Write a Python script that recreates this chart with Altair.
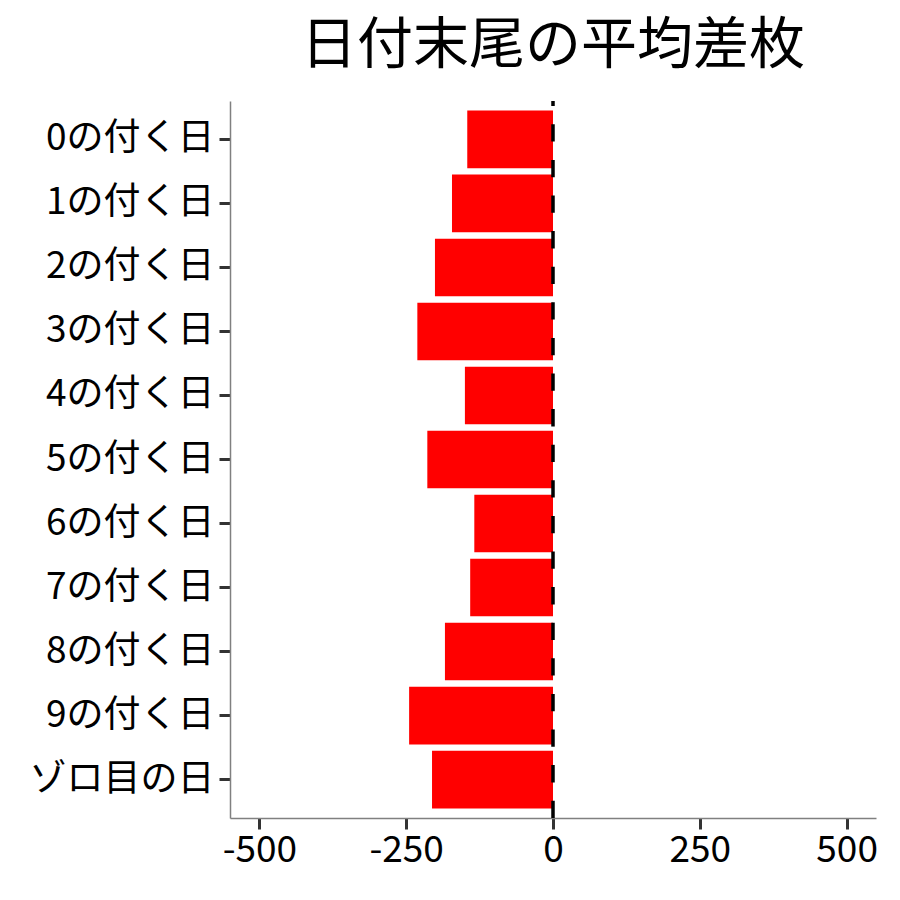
import altair as alt
import pandas as pd

categories = ["0の付く日", "1の付く日", "2の付く日", "3の付く日", "4の付く日",
              "5の付く日", "6の付く日", "7の付く日", "8の付く日", "9の付く日", "ゾロ目の日"]
values = [-146, -172, -201, -231, -150, -214, -134, -141, -184, -245, -206]
x_ticks = [-500, -250, 0, 250, 500]
ref_value = [0]

df = pd.DataFrame({"cat": categories, "val": values})
ref_df = pd.DataFrame({"ref": ref_value})

FONT = "Noto Sans CJK JP"
W, H = 646, 717

xscale = alt.Scale(domain=[-550, 550], nice=False, zero=False)

bars = alt.Chart(df).mark_bar(color="#FF0000").encode(
    y=alt.Y("cat:N", sort=categories,
            scale=alt.Scale(paddingInner=0.1, paddingOuter=0.15),
            axis=alt.Axis(title=None, labelFontSize=37, labelColor="black",
                          labelFont=FONT, labelLimit=0, tickColor="#333333",
                          tickWidth=3, tickSize=11, labelPadding=5,
                          domainColor="#808080", domainWidth=1.5, grid=False)),
    x=alt.X("val:Q", scale=xscale,
            axis=alt.Axis(title=None, values=x_ticks, labelFontSize=37,
                          labelColor="black", labelFont=FONT,
                          labelExpr="datum.value < 0 ? '-' + abs(datum.value) : '' + datum.value",
                          tickColor="#333333", tickWidth=3, tickSize=11,
                          labelPadding=3, domainColor="#808080",
                          domainWidth=1.5, grid=False, labelFlush=False)),
    x2=alt.datum(0),
)

rule = alt.Chart(ref_df).mark_rule(color="black", strokeWidth=3.5,
                                   strokeDash=[17.3, 18.3]).encode(
    x=alt.X("ref:Q", scale=xscale),
    y=alt.value(H),
    y2=alt.value(0),
)

chart = alt.layer(bars, rule).properties(
    width=W, height=H,
    title=alt.TitleParams("日付末尾の平均差枚", font=FONT, fontSize=56,
                          fontWeight="normal", color="black",
                          anchor="middle", offset=24),
    autosize=alt.AutoSizeParams(type="none"),
    padding={"left": 222, "top": 93, "right": 16, "bottom": 60},
).configure(font=FONT).configure_view(strokeWidth=0, stroke="transparent")

chart.save("out.html", embed_options={"renderer": "svg", "actions": False})
